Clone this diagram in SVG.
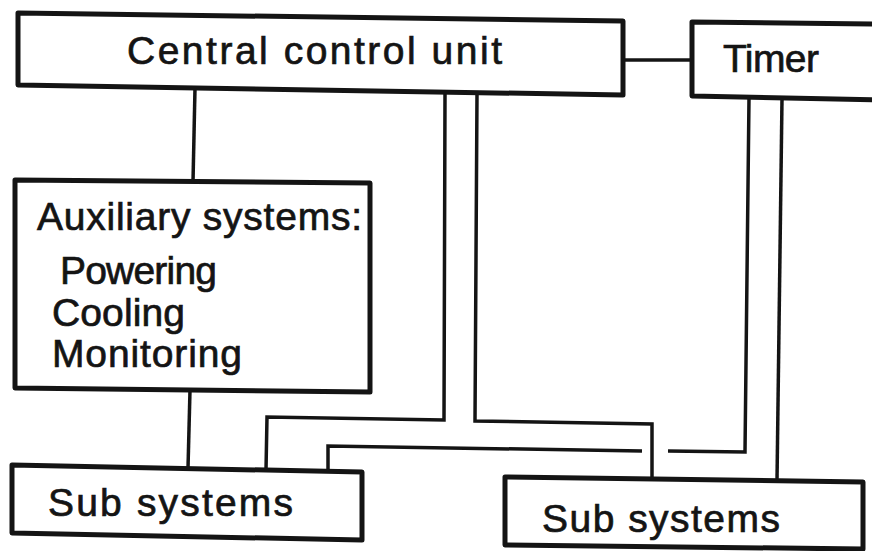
<svg xmlns="http://www.w3.org/2000/svg" width="872" height="551" viewBox="0 0 872 551">
<style>
.box{fill:#fff;stroke:#141414;stroke-width:5;stroke-linejoin:round}
.ln{fill:none;stroke:#141414;stroke-width:3.5;stroke-linejoin:miter}
text{font-family:"Liberation Sans",Arial,sans-serif;font-size:39px;fill:#141414;stroke:#141414;stroke-width:0.7}
</style>
<rect width="872" height="551" fill="#fff"/>
<g id="connectors">
<path class="ln" d="M195,88 L193,182"/>
<path class="ln" d="M623,60 H692"/>
<path class="ln" d="M190,390 L188,468"/>
<path class="ln" d="M445,94 L444,420 L267,417 L266,470"/>
<path class="ln" d="M477,94 L475,421 L652,424 L652,479"/>
<path class="ln" d="M749,98 L745,452 L668,451"/>
<path class="ln" d="M642,451 L328,446 L328,472"/>
<path class="ln" d="M782,99 L777,481"/>
</g>
<g id="central">
<path class="box" d="M18,13 L623,21 L623,95 L18,85 Z"/>
<text x="127" y="64" textLength="375" lengthAdjust="spacing">Central control unit</text>
</g>
<g id="timer">
<path class="box" d="M692,22 L878,24 L878,100 L692,96 Z"/>
<text x="723" y="72" textLength="96" lengthAdjust="spacing">Timer</text>
</g>
<g id="auxiliary">
<path class="box" d="M15,180 L370,183 L370,392 L15,388 Z"/>
<text x="37" y="230" textLength="325" lengthAdjust="spacing">Auxiliary systems:</text>
<text x="60" y="284" textLength="157" lengthAdjust="spacing">Powering</text>
<text x="52" y="326" textLength="133" lengthAdjust="spacing">Cooling</text>
<text x="52" y="367" textLength="190" lengthAdjust="spacing">Monitoring</text>
</g>
<g id="sub1">
<path class="box" d="M12,465 L362,472 L362,540 L12,533 Z"/>
<text x="48" y="516" textLength="245" lengthAdjust="spacing">Sub systems</text>
</g>
<g id="sub2">
<path class="box" d="M505,477 L863,482 L863,549 L505,545 Z"/>
<text x="542" y="532" textLength="238" lengthAdjust="spacing">Sub systems</text>
</g>
</svg>
